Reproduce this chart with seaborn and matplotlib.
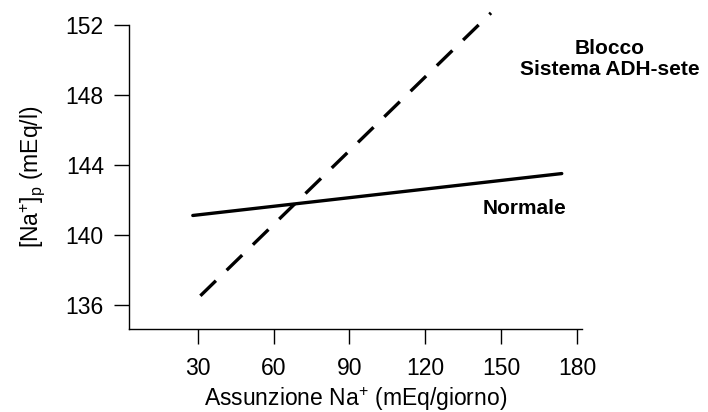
import pandas as pd
import matplotlib.pyplot as plt
import seaborn as sns

# valori
normale_x = [28, 174]
normale_y = [141.1, 143.5]
blocco_x = [31, 146]
blocco_y = [136.5, 152.7]

x_ticks = [30, 60, 90, 120, 150, 180]
y_ticks = [136, 140, 144, 148, 152]

df = pd.concat([
    pd.DataFrame({'x': normale_x, 'y': normale_y, 'serie': 'Normale'}),
    pd.DataFrame({'x': blocco_x, 'y': blocco_y, 'serie': 'Blocco'}),
])

sns.set_style('white')
plt.rcParams['font.family'] = ['Liberation Sans', 'DejaVu Sans']
plt.rcParams['mathtext.fontset'] = 'custom'
plt.rcParams['mathtext.rm'] = 'Liberation Sans'
plt.rcParams['mathtext.it'] = 'Liberation Sans:italic'
plt.rcParams['text.color'] = 'black'
plt.rcParams['axes.labelcolor'] = 'black'
plt.rcParams['xtick.color'] = 'black'
plt.rcParams['ytick.color'] = 'black'

fig = plt.figure(figsize=(7.08, 4.12), dpi=100)
ax = fig.add_axes([0.182, 0.2015, 0.64, 0.7375])

sns.lineplot(data=df, x='x', y='y', hue='serie', style='serie',
             palette={'Normale': 'black', 'Blocco': 'black'},
             dashes={'Normale': '', 'Blocco': (6.5, 4.5)},
             linewidth=2.4, legend=False, ax=ax, clip_on=False)

ax.set_xlim(2.7, 182)
ax.set_ylim(134.6, 152)
ax.set_xticks(x_ticks)
ax.set_yticks(y_ticks)
sns.despine(ax=ax)
for s in ['left', 'bottom']:
    ax.spines[s].set_color('black')
    ax.spines[s].set_linewidth(1)
ax.tick_params(direction='out', length=11, width=1, color='black',
               labelsize=16.5, left=True, bottom=True)
ax.tick_params(axis='x', pad=9)
ax.tick_params(axis='y', pad=7)

ax.set_xlabel('Assunzione Na$^{+}$ (mEq/giorno)', fontsize=16.5, labelpad=4)
ax.set_ylabel('[Na$^{+}$]$_{\\mathrm{p}}$ (mEq/l)', fontsize=16.5, labelpad=13)

ax.text(193, 150.05, 'Blocco\nSistema ADH-sete', ha='center', va='center',
        fontsize=15, fontweight='bold', linespacing=1.15)
ax.text(159.4, 141.5, 'Normale', ha='center', va='center',
        fontsize=15, fontweight='bold')

fig.savefig('out.png', dpi=100)
